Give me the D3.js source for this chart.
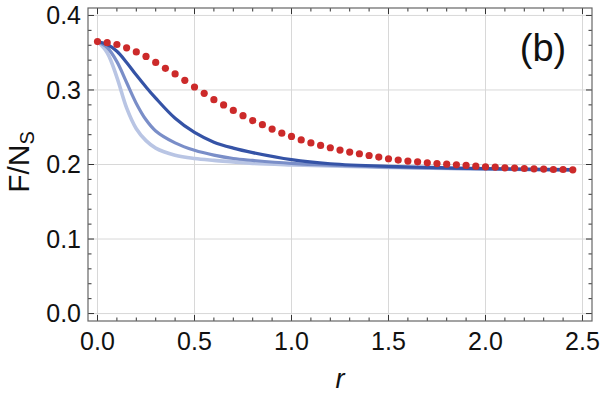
<!DOCTYPE html>
<html>
<head>
<meta charset="utf-8">
<script src="https://cdn.jsdelivr.net/npm/d3@7"></script>
<style>
  body { margin: 0; background: #fff; }
  text { font-family: "Liberation Sans", Arial, sans-serif; fill: #111; }
</style>
</head>
<body>
<svg id="chart" width="600" height="398"></svg>
<script>
// red dots (r step 0.05)
const rDots = [0,0.05,0.1,0.15,0.2,0.25,0.3,0.35,0.4,0.45,0.5,0.55,0.6,0.65,0.7,0.75,0.8,0.85,0.9,0.95,
  1.0,1.05,1.1,1.15,1.2,1.25,1.3,1.35,1.4,1.45,1.5,1.55,1.6,1.65,1.7,1.75,1.8,1.85,1.9,1.95,
  2.0,2.05,2.1,2.15,2.2,2.25,2.3,2.35,2.4,2.45];
const fDots = [0.365,0.3635,0.361,0.3565,0.351,0.345,0.337,0.329,0.3215,0.313,0.304,0.2955,0.287,0.280,0.2726,0.2655,0.259,
  0.2534,0.2476,0.242,0.2377,0.233,0.229,0.2256,0.2225,0.2194,0.2167,0.2144,0.2121,0.21,0.2077,
  0.206,0.2046,0.2036,0.2023,0.2013,0.2005,0.1996,0.1987,0.1978,0.1969,
  0.1965,0.1956,0.1952,0.1946,0.1942,0.1938,0.1933,0.1933,0.1929];

// blue curves
const rCurve = [0,0.05,0.1,0.15,0.2,0.25,0.3,0.4,0.5,0.6,0.7,0.8,1.0,1.2,1.5,2.0,2.45];
const fDark  = [0.365,0.361,0.352,0.337,0.320,0.304,0.289,0.262,0.243,0.230,0.222,0.216,0.2065,0.201,0.1975,0.1945,0.193];
const fMid   = [0.365,0.357,0.338,0.310,0.282,0.260,0.245,0.229,0.219,0.2125,0.208,0.2055,0.2015,0.199,0.1965,0.194,0.1925];
const fLight = [0.365,0.350,0.317,0.276,0.248,0.232,0.222,0.2125,0.208,0.2055,0.2035,0.2015,0.1995,0.198,0.196,0.194,0.1925];

const xMajor = [0,0.5,1,1.5,2,2.5];
const xLabels = ["0.0","0.5","1.0","1.5","2.0","2.5"];
const yMajor = [0,0.1,0.2,0.3,0.4];
const yLabels = ["0.0","0.1","0.2","0.3","0.4"];
const xMinor = [0.1,0.2,0.3,0.4,0.6,0.7,0.8,0.9,1.1,1.2,1.3,1.4,1.6,1.7,1.8,1.9,2.1,2.2,2.3,2.4];
const yMinor = [0.02,0.04,0.06,0.08,0.12,0.14,0.16,0.18,0.22,0.24,0.26,0.28,0.32,0.34,0.36,0.38];

const pLeft = 88, pRight = 592, pTop = 8, pBottom = 321;

const svg = d3.select("#chart");
const x = d3.scaleLinear().domain([-0.049, 2.549]).range([pLeft, pRight]);
const y = d3.scaleLinear().domain([-0.01, 0.41]).range([pBottom, pTop]);

// grid
svg.append("g").selectAll("line").data(xMajor).join("line")
   .attr("x1", d => x(d)).attr("x2", d => x(d))
   .attr("y1", pTop).attr("y2", pBottom)
   .attr("stroke", "#d8d8d8").attr("stroke-width", 1);
svg.append("g").selectAll("line").data(yMajor).join("line")
   .attr("x1", pLeft).attr("x2", pRight)
   .attr("y1", d => y(d)).attr("y2", d => y(d))
   .attr("stroke", "#d8d8d8").attr("stroke-width", 1);

// curves
const line = d3.line().x(d => x(d[0])).y(d => y(d[1])).curve(d3.curveCatmullRom.alpha(0.5));
const curves = [
  {f: fLight, color: "#b9c5e4", w: 3.6},
  {f: fMid,   color: "#7a8ec8", w: 3.2},
  {f: fDark,  color: "#3553a6", w: 3.2}
];
curves.forEach(c => {
  svg.append("path")
     .datum(rCurve.map((r, i) => [r, c.f[i]]))
     .attr("d", line)
     .attr("fill", "none")
     .attr("stroke", c.color)
     .attr("stroke-width", c.w)
     .attr("stroke-linejoin", "round");
});

// dots
svg.append("g").selectAll("circle").data(rDots).join("circle")
   .attr("cx", d => x(d))
   .attr("cy", (d, i) => y(fDots[i]))
   .attr("r", 3.6)
   .attr("fill", "#cc2a2a");

// frame + ticks
const tickCol = "#333";
function ticks(g, vals, len, side) {
  const horiz = side === "b" || side === "t";
  g.selectAll("line").data(vals).join("line")
   .attr("x1", d => horiz ? x(d) : (side === "l" ? pLeft : pRight))
   .attr("x2", d => horiz ? x(d) : (side === "l" ? pLeft + len : pRight - len))
   .attr("y1", d => !horiz ? y(d) : (side === "b" ? pBottom : pTop))
   .attr("y2", d => !horiz ? y(d) : (side === "b" ? pBottom - len : pTop + len))
   .attr("stroke", tickCol).attr("stroke-width", 1);
}
["b","t"].forEach(s => {
  ticks(svg.append("g"), xMajor, 6, s);
  ticks(svg.append("g"), xMinor, 3.5, s);
});
["l","r"].forEach(s => {
  ticks(svg.append("g"), yMajor, 6, s);
  ticks(svg.append("g"), yMinor, 3.5, s);
});
svg.append("rect")
   .attr("x", pLeft).attr("y", pTop)
   .attr("width", pRight - pLeft).attr("height", pBottom - pTop)
   .attr("fill", "none").attr("stroke", "#666").attr("stroke-width", 1.2);

// tick labels
svg.append("g").selectAll("text").data(xMajor).join("text")
   .attr("x", d => x(d)).attr("y", 350)
   .attr("text-anchor", "middle")
   .attr("font-size", 25)
   .text((d, i) => xLabels[i]);
svg.append("g").selectAll("text").data(yMajor).join("text")
   .attr("x", 81).attr("y", d => y(d) + 8.8)
   .attr("text-anchor", "end")
   .attr("font-size", 25)
   .text((d, i) => yLabels[i]);

// axis titles
svg.append("text")
   .attr("x", (pLeft + pRight) / 2).attr("y", 388)
   .attr("text-anchor", "middle")
   .attr("font-size", 27)
   .attr("font-style", "italic")
   .text("r");

const yt = svg.append("text")
   .attr("transform", "translate(29,162) rotate(-90)")
   .attr("text-anchor", "middle")
   .attr("font-size", 30);
yt.append("tspan").text("F/N");
yt.append("tspan").attr("font-size", 20).attr("dy", 5).text("S");

// panel label
svg.append("text")
   .attr("x", 543).attr("y", 61)
   .attr("text-anchor", "middle")
   .attr("font-size", 38)
   .text("(b)");
</script>
</body>
</html>
